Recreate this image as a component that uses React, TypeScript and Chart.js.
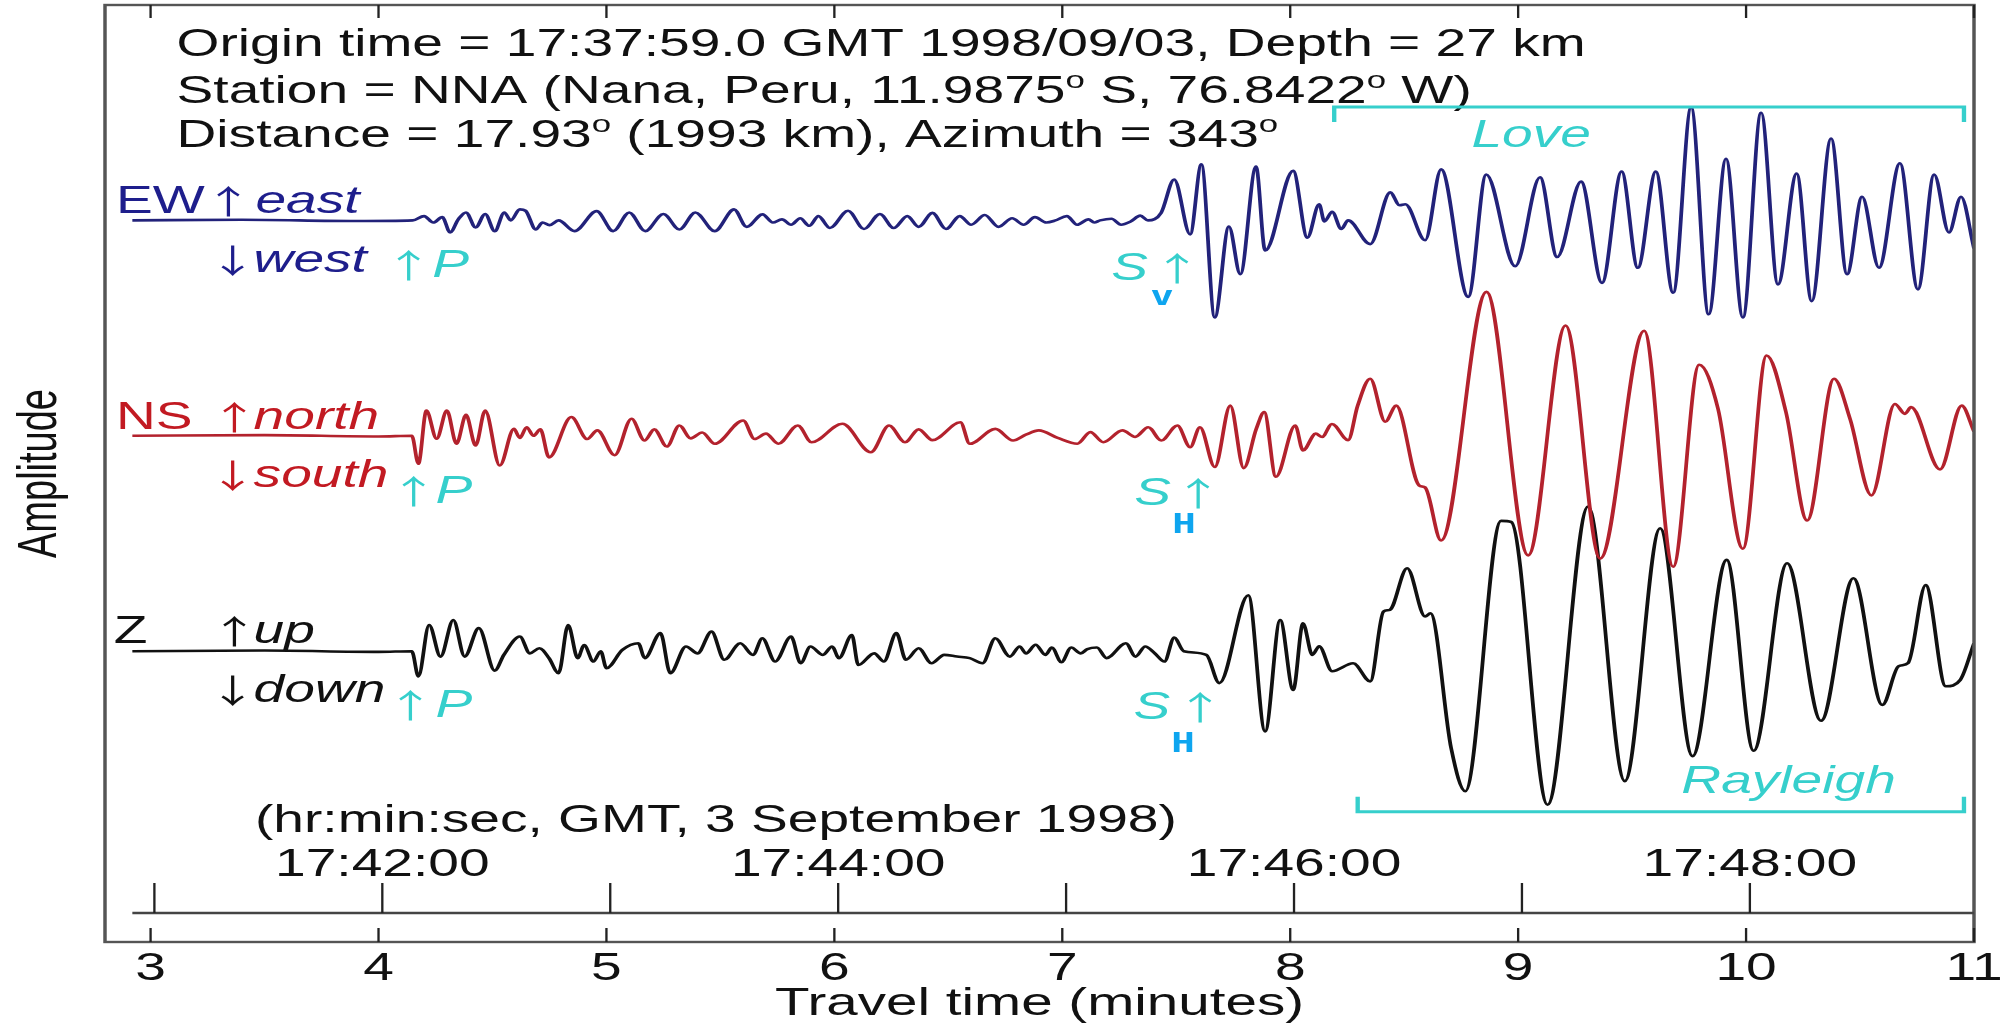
import { useEffect, useRef } from 'react';
import { Chart, registerables } from 'chart.js';

Chart.register(...registerables);

// ---------------- data ----------------
const X_TICKS = [3, 4, 5, 6, 7, 8, 9, 10, 11];
const X_MIN = 2.8;
const X_MAX = 11;
const Y_MIN = -1.35;
const Y_MAX = 3.0;

// GMT clock axis (17:41:00 ... 17:48:00 expressed as travel minutes)
const GMT_TICK_MINUTES = [3.0167, 4.0167, 5.0167, 6.0167, 7.0167, 8.0167, 9.0167, 10.0167];
const GMT_LABEL_MINUTES = [4.0167, 6.0167, 8.0167, 10.0167];
const GMT_LABELS = ['17:42:00', '17:44:00', '17:46:00', '17:48:00'];

const TRACE_OFFSET_EW = 2;
const TRACE_OFFSET_NS = 1;
const TRACE_OFFSET_Z = 0;

// [travel time (min), amplitude (fraction of trace spacing)]
const EW_TRACE: [number, number][] = [
  [2.92, 0], [3.4, 0.003], [3.9, -0.003], [4.15, 0],
  [4.2, 0.02], [4.24, -0.01], [4.28, 0.015], [4.314, -0.056], [4.35, 0.005], [4.384, 0.037],
  [4.426, -0.033], [4.468, 0.03], [4.51, -0.05], [4.552, 0.037], [4.58, 0.0], [4.62, 0.051],
  [4.645, 0.045], [4.69, -0.042], [4.72, -0.01], [4.75, -0.022], [4.79, 0.0], [4.86, -0.05],
  [4.957, 0.043], [5.03, -0.05], [5.1, 0.037], [5.17, -0.05], [5.25, 0.03], [5.32, -0.042],
  [5.39, 0.037], [5.475, -0.05], [5.56, 0.051], [5.615, -0.03], [5.685, 0.028], [5.73, -0.01],
  [5.77, 0.005], [5.81, -0.02], [5.85, 0.01], [5.89, -0.025], [5.93, 0.02], [5.98, -0.035],
  [6.06, 0.045], [6.13, -0.04], [6.2, 0.03], [6.26, -0.035], [6.32, 0.02], [6.37, -0.03],
  [6.43, 0.035], [6.49, -0.04], [6.55, 0.02], [6.6, -0.02], [6.66, 0.025], [6.72, -0.03],
  [6.78, 0.01], [6.83, -0.02], [6.88, 0.015], [6.93, -0.01], [6.97, 0.0], [7.02, 0.02],
  [7.065, -0.02], [7.115, 0.005], [7.14, -0.01], [7.166, 0.0], [7.216, 0.008], [7.258, -0.02],
  [7.3, -0.005], [7.342, 0.022], [7.376, 0.0], [7.434, 0.036], [7.491, 0.19], [7.561, -0.065],
  [7.61, 0.26], [7.669, -0.45], [7.731, -0.028], [7.781, -0.25], [7.85, 0.25], [7.89, -0.14],
  [8.013, 0.23], [8.075, -0.08], [8.127, 0.075], [8.15, -0.005], [8.184, 0.04], [8.224, -0.04],
  [8.254, 0.0], [8.351, -0.11], [8.439, 0.13], [8.48, 0.07], [8.505, 0.075], [8.592, -0.092],
  [8.662, 0.237], [8.781, -0.355], [8.86, 0.213], [8.987, -0.213], [9.096, 0.2], [9.171, -0.17],
  [9.276, 0.18], [9.368, -0.29], [9.454, 0.227], [9.525, -0.22], [9.604, 0.227], [9.68, -0.336],
  [9.759, 0.524], [9.836, -0.436], [9.912, 0.286], [9.986, -0.45], [10.066, 0.5], [10.14, -0.297],
  [10.222, 0.218], [10.288, -0.375], [10.373, 0.38], [10.443, -0.25], [10.509, 0.11], [10.583, -0.22],
  [10.675, 0.265], [10.754, -0.32], [10.825, 0.213], [10.89, -0.056], [10.943, 0.11], [11.0, -0.13],
];

const NS_TRACE: [number, number][] = [
  [2.92, 0], [3.5, 0.003], [4.0, -0.003], [4.146, 0], [4.175, -0.13], [4.21, 0.117],
  [4.255, -0.014], [4.3, 0.117], [4.342, -0.037], [4.384, 0.097], [4.426, -0.045], [4.468, 0.117],
  [4.532, -0.138], [4.594, 0.032], [4.62, -0.01], [4.65, 0.04], [4.68, 0.0], [4.71, 0.03],
  [4.748, -0.1], [4.846, 0.087], [4.916, -0.015], [4.96, 0.025], [5.036, -0.09], [5.11, 0.079],
  [5.167, -0.022], [5.21, 0.03], [5.265, -0.05], [5.32, 0.048], [5.37, -0.012], [5.42, 0.015],
  [5.475, -0.037], [5.6, 0.071], [5.65, -0.015], [5.7, 0.01], [5.754, -0.037], [5.84, 0.048],
  [5.9, -0.03], [6.035, 0.056], [6.16, -0.076], [6.24, 0.048], [6.31, -0.03], [6.37, 0.03],
  [6.43, -0.02], [6.553, 0.063], [6.594, -0.037], [6.706, 0.032], [6.784, -0.022], [6.84, 0.005],
  [6.897, 0.025], [6.98, -0.01], [7.066, -0.037], [7.123, 0.017], [7.18, -0.03], [7.264, 0.025],
  [7.32, -0.005], [7.377, 0.04], [7.434, -0.022], [7.505, 0.048], [7.561, -0.053], [7.604, 0.04],
  [7.669, -0.145], [7.737, 0.14], [7.796, -0.15], [7.851, 0.032], [7.886, 0.11], [7.937, -0.19],
  [8.022, 0.048], [8.056, -0.068], [8.112, 0.01], [8.14, -0.005], [8.183, 0.055], [8.254, -0.02],
  [8.296, 0.14], [8.351, 0.265], [8.417, 0.065], [8.465, 0.14], [8.565, -0.23], [8.592, -0.24],
  [8.662, -0.486], [8.861, 0.668], [9.044, -0.555], [9.208, 0.512], [9.36, -0.57], [9.553, 0.488],
  [9.68, -0.608], [9.794, 0.33], [9.877, 0.125], [9.986, -0.524], [10.09, 0.373], [10.175, 0.11],
  [10.268, -0.393], [10.386, 0.265], [10.456, 0.079], [10.55, -0.277], [10.653, 0.148], [10.697, 0.102],
  [10.724, 0.133], [10.851, -0.156], [10.946, 0.14], [11.0, 0.02],
];

const Z_TRACE: [number, number][] = [
  [2.92, 0], [3.5, 0.003], [4.0, -0.003], [4.146, 0], [4.175, -0.117], [4.222, 0.122],
  [4.272, -0.025], [4.328, 0.145], [4.378, -0.025], [4.44, 0.107], [4.51, -0.09], [4.55, -0.017],
  [4.62, 0.068], [4.664, -0.01], [4.706, 0.014], [4.748, -0.032], [4.79, -0.102], [4.832, 0.122],
  [4.874, -0.032], [4.902, 0.029], [4.943, -0.048], [4.975, 0.0], [5.0, -0.079], [5.07, 0.006],
  [5.14, 0.037], [5.168, -0.032], [5.237, 0.084], [5.28, -0.102], [5.349, 0.022], [5.4, -0.01],
  [5.461, 0.091], [5.517, -0.04], [5.587, 0.037], [5.643, -0.017], [5.684, 0.06], [5.74, -0.048],
  [5.81, 0.068], [5.852, -0.056], [5.895, 0.022], [5.95, -0.017], [5.99, 0.022], [6.02, -0.032],
  [6.077, 0.075], [6.105, -0.064], [6.175, -0.01], [6.217, -0.048], [6.272, 0.084], [6.314, -0.04],
  [6.37, 0.014], [6.426, -0.056], [6.482, -0.017], [6.538, -0.025], [6.594, -0.032], [6.65, -0.056],
  [6.706, 0.06], [6.77, -0.025], [6.813, 0.022], [6.841, -0.01], [6.883, 0.03], [6.926, -0.017],
  [6.954, 0.017], [6.996, -0.051], [7.039, 0.017], [7.081, -0.01], [7.11, 0.01], [7.152, 0.017],
  [7.194, -0.032], [7.279, 0.037], [7.321, -0.025], [7.364, 0.022], [7.406, -0.01], [7.448, -0.048],
  [7.491, 0.063], [7.533, 0.0], [7.632, -0.017], [7.689, -0.148], [7.816, 0.26], [7.89, -0.372],
  [7.956, 0.145], [8.013, -0.18], [8.056, 0.13], [8.097, -0.017], [8.127, 0.023], [8.184, -0.093],
  [8.276, -0.056], [8.351, -0.14], [8.409, 0.184], [8.437, 0.192], [8.513, 0.385], [8.592, 0.161],
  [8.615, 0.176], [8.706, -0.45], [8.768, -0.65], [8.925, 0.605], [8.97, 0.6], [9.129, -0.713],
  [9.307, 0.672], [9.468, -0.603], [9.623, 0.571], [9.765, -0.487], [9.915, 0.424], [10.033, -0.462],
  [10.18, 0.408], [10.329, -0.323], [10.471, 0.339], [10.598, -0.249], [10.669, -0.07], [10.711, -0.055],
  [10.788, 0.307], [10.876, -0.163], [10.94, -0.133], [11.0, 0.037],
];

const LOVE_WINDOW = [8.193, 10.956];
const RAYLEIGH_WINDOW = [8.296, 10.956];
const TRACE_START = 2.92;

// ---------------- styling ----------------
const FONT_FAMILY = '"Liberation Sans", Arial, Helvetica, sans-serif';
const ARROW_FAMILY = '"Noto Sans CJK SC", "Noto Sans CJK JP", "DejaVu Sans", sans-serif';
const MARK_FAMILY = '"DejaVu Sans Mono", monospace';
const NAVY_LINE = '#22227a';
const NAVY_TEXT = '#1e1e8c';
const RED_LINE = '#b3222d';
const RED_TEXT = '#c21a22';
const BLACK = '#111111';
const CYAN = '#36cfcc';
const AZURE = '#0ea5ef';
const FRAME = '#555555';

const CANVAS_W = 2010;
const CANVAS_H = 1031;
const STRETCH = 1.45;
const LOGICAL_W = Math.round(CANVAS_W / STRETCH);
const SX = CANVAS_W / LOGICAL_W;
const FRAME_LEFT = 105;
const FRAME_RIGHT = 1974;
const FRAME_TOP = 5;
const FRAME_BOTTOM = 942;
const FONT_SIZE = 38;

type Run = { text: string; sup?: boolean };
const HEADER_LINES: { runs: Run[]; v: number }[] = [
  { v: 2.763, runs: [{ text: 'Origin time = 17:37:59.0 GMT 1998/09/03, Depth = 27 km' }] },
  {
    v: 2.545,
    runs: [
      { text: 'Station = NNA (Nana, Peru, 11.9875' }, { text: 'o', sup: true },
      { text: ' S, 76.8422' }, { text: 'o', sup: true }, { text: ' W)' },
    ],
  },
  {
    v: 2.341,
    runs: [
      { text: 'Distance = 17.93' }, { text: 'o', sup: true },
      { text: ' (1993 km), Azimuth = 343' }, { text: 'o', sup: true },
    ],
  },
];
const HEADER_M = 3.114;

type Label = { text: string; m: number; v: number; color: string; italic?: boolean; mark?: boolean; arrow?: boolean };
const LABELS: Label[] = [
  { text: 'EW', m: 2.848, v: 2.034, color: NAVY_TEXT },
  { text: '↑', m: 3.342, v: 2.034, color: NAVY_TEXT, arrow: true },
  { text: 'east', m: 3.46, v: 2.034, color: NAVY_TEXT, italic: true },
  { text: '↓', m: 3.36, v: 1.76, color: NAVY_TEXT, arrow: true },
  { text: 'west', m: 3.452, v: 1.76, color: NAVY_TEXT, italic: true },
  { text: '↑', m: 4.132, v: 1.737, color: CYAN, arrow: true },
  { text: 'P', m: 4.236, v: 1.737, color: CYAN, italic: true },

  { text: 'NS', m: 2.848, v: 1.032, color: RED_TEXT },
  { text: '↑', m: 3.368, v: 1.032, color: RED_TEXT, arrow: true },
  { text: 'north', m: 3.452, v: 1.032, color: RED_TEXT, italic: true },
  { text: '↓', m: 3.36, v: 0.762, color: RED_TEXT, arrow: true },
  { text: 'south', m: 3.452, v: 0.762, color: RED_TEXT, italic: true },
  { text: '↑', m: 4.154, v: 0.688, color: CYAN, arrow: true },
  { text: 'P', m: 4.25, v: 0.688, color: CYAN, italic: true },

  { text: 'Z', m: 2.838, v: 0.038, color: BLACK },
  { text: '↑', m: 3.368, v: 0.038, color: BLACK, arrow: true },
  { text: 'up', m: 3.452, v: 0.038, color: BLACK, italic: true },
  { text: '↓', m: 3.36, v: -0.236, color: BLACK, arrow: true },
  { text: 'down', m: 3.452, v: -0.236, color: BLACK, italic: true },
  { text: '↑', m: 4.14, v: -0.306, color: CYAN, arrow: true },
  { text: 'P', m: 4.25, v: -0.306, color: CYAN, italic: true },

  { text: 'S', m: 7.215, v: 1.723, color: CYAN, italic: true },
  { text: '↑', m: 7.504, v: 1.723, color: CYAN, arrow: true },
  { text: 'S', m: 7.316, v: 0.679, color: CYAN, italic: true },
  { text: '↑', m: 7.596, v: 0.679, color: CYAN, arrow: true },
  { text: 'S', m: 7.312, v: -0.315, color: CYAN, italic: true },
  { text: '↑', m: 7.605, v: -0.315, color: CYAN, arrow: true },

  { text: 'v', m: 7.386, v: 1.607, color: AZURE, mark: true },
  { text: 'H', m: 7.482, v: 0.549, color: AZURE, mark: true },
  { text: 'H', m: 7.478, v: -0.468, color: AZURE, mark: true },

  { text: 'Love', m: 8.795, v: 2.341, color: CYAN, italic: true },
  { text: 'Rayleigh', m: 9.716, v: -0.658, color: CYAN, italic: true },
  { text: '(hr:min:sec, GMT, 3 September 1998)', m: 3.458, v: -0.839, color: BLACK },
];
const GMT_AXIS_LEVEL = -1.2153;
const GMT_LABEL_LEVEL = -1.0436;
const BRACKET_LOVE = { level: 2.5265, tip: 2.4568 };
const BRACKET_RAYLEIGH = { level: -0.7452, tip: -0.6755 };

function font(size: number, italic = false, family = FONT_FAMILY, bold = false) {
  return `${italic ? 'italic ' : ''}${bold ? 'bold ' : ''}${size}px ${family}`;
}

const seismoPlugin = {
  id: 'seismo',
  afterInit(chart: any) {
    chart.canvas.width = CANVAS_W;
    chart.canvas.style.width = CANVAS_W + 'px';
  },
  beforeDraw(chart: any) {
    const ctx = chart.ctx as CanvasRenderingContext2D;
    ctx.save();
    ctx.setTransform(SX, 0, 0, 1, 0, 0);
    ctx.fillStyle = '#ffffff';
    ctx.fillRect(0, 0, chart.width, chart.height);
  },
  afterDraw(chart: any) {
    const ctx = chart.ctx as CanvasRenderingContext2D;
    const xs = chart.scales.x;
    const ys = chart.scales.y;
    const X = (m: number) => xs.getPixelForValue(m);
    const Y = (v: number) => ys.getPixelForValue(v);
    const { left, right, top, bottom } = chart.chartArea;

    // frame
    ctx.strokeStyle = FRAME;
    ctx.lineWidth = 2.4;
    ctx.strokeRect(left, top, right - left, bottom - top);

    // ticks of the travel-time axis (inward, top and bottom)
    ctx.strokeStyle = '#222';
    ctx.lineWidth = 1.6;
    ctx.beginPath();
    for (const t of X_TICKS) {
      const px = X(t);
      ctx.moveTo(px, top);
      ctx.lineTo(px, top + 13);
      ctx.moveTo(px, bottom);
      ctx.lineTo(px, bottom - 14);
    }
    ctx.stroke();

    // GMT clock axis
    const gy = Y(GMT_AXIS_LEVEL);
    ctx.strokeStyle = '#444';
    ctx.lineWidth = 2.4;
    ctx.beginPath();
    ctx.moveTo(X(TRACE_START), gy);
    ctx.lineTo(right, gy);
    ctx.stroke();
    ctx.strokeStyle = '#222';
    ctx.lineWidth = 1.6;
    ctx.beginPath();
    for (const t of GMT_TICK_MINUTES) {
      ctx.moveTo(X(t), gy);
      ctx.lineTo(X(t), gy - 30);
    }
    ctx.stroke();
    ctx.fillStyle = BLACK;
    ctx.font = font(FONT_SIZE);
    ctx.textAlign = 'center';
    ctx.textBaseline = 'alphabetic';
    GMT_LABELS.forEach((lab, i) => ctx.fillText(lab, X(GMT_LABEL_MINUTES[i]), Y(GMT_LABEL_LEVEL)));

    // header lines
    ctx.textAlign = 'left';
    for (const line of HEADER_LINES) {
      let cx = X(HEADER_M);
      const by = Y(line.v);
      for (const r of line.runs) {
        ctx.font = r.sup ? font(24) : font(FONT_SIZE);
        ctx.fillText(r.text, cx, r.sup ? by - 15 : by);
        cx += ctx.measureText(r.text).width;
      }
    }

    // labels
    for (const l of LABELS) {
      ctx.fillStyle = l.color;
      if (l.arrow) {
        ctx.font = font(33, false, ARROW_FAMILY);
        ctx.textAlign = 'center';
        ctx.fillText(l.text, X(l.m), Y(l.v) + 1);
        ctx.textAlign = 'left';
      } else {
        ctx.font = l.mark ? font(27, false, MARK_FAMILY, true) : font(FONT_SIZE, !!l.italic);
        ctx.fillText(l.text, X(l.m), Y(l.v));
      }
    }

    // Love / Rayleigh brackets
    ctx.strokeStyle = CYAN;
    ctx.lineWidth = 3;
    const bracket = (w: number[], b: { level: number; tip: number }) => {
      ctx.beginPath();
      ctx.moveTo(X(w[0]), Y(b.tip));
      ctx.lineTo(X(w[0]), Y(b.level));
      ctx.lineTo(X(w[1]), Y(b.level));
      ctx.lineTo(X(w[1]), Y(b.tip));
      ctx.stroke();
    };
    bracket(LOVE_WINDOW, BRACKET_LOVE);
    bracket(RAYLEIGH_WINDOW, BRACKET_RAYLEIGH);

    ctx.restore();
  },
};

function series(trace: [number, number][], offset: number) {
  return trace.map(([t, a]) => ({ x: t, y: a + offset }));
}

export default function App() {
  const ref = useRef<HTMLCanvasElement | null>(null);
  useEffect(() => {
    const canvas = ref.current;
    if (!canvas) return;
    const common = {
      pointRadius: 0,
      borderWidth: 2.6,
      cubicInterpolationMode: 'monotone' as const,
      fill: false,
    };
    const chart = new Chart(canvas, {
      type: 'line',
      data: {
        datasets: [
          { label: 'EW', data: series(EW_TRACE, TRACE_OFFSET_EW), borderColor: NAVY_LINE, ...common },
          { label: 'NS', data: series(NS_TRACE, TRACE_OFFSET_NS), borderColor: RED_LINE, ...common },
          { label: 'Z', data: series(Z_TRACE, TRACE_OFFSET_Z), borderColor: BLACK, ...common },
        ],
      },
      options: {
        responsive: false,
        animation: false,
        devicePixelRatio: 1,
        events: [],
        layout: {
          padding: { left: 0, top: FRAME_TOP, right: LOGICAL_W - FRAME_RIGHT / SX, bottom: 0 },
        },
        plugins: {
          legend: { display: false },
          tooltip: { enabled: false },
          title: { display: false },
        },
        scales: {
          x: {
            type: 'linear',
            min: X_MIN,
            max: X_MAX,
            afterBuildTicks: (s: any) => {
              s.ticks = X_TICKS.map((v) => ({ value: v }));
            },
            afterFit: (s: any) => {
              s.height = CANVAS_H - FRAME_BOTTOM;
            },
            grid: { display: false, drawTicks: false },
            border: { display: false },
            ticks: {
              color: BLACK,
              padding: 5,
              maxRotation: 0,
              autoSkip: false,
              font: { family: FONT_FAMILY, size: FONT_SIZE },
              callback: (v: any) => String(v),
            },
            title: {
              display: true,
              text: 'Travel time (minutes)',
              color: BLACK,
              font: { family: FONT_FAMILY, size: 39 },
              padding: { top: 0, bottom: 3 },
            },
          },
          y: {
            type: 'linear',
            min: Y_MIN,
            max: Y_MAX,
            afterFit: (s: any) => {
              s.width = FRAME_LEFT / SX;
            },
            grid: { display: false, drawTicks: false },
            border: { display: false },
            ticks: { display: false },
            title: {
              display: true,
              text: 'Amplitude',
              color: BLACK,
              font: { family: FONT_FAMILY, size: FONT_SIZE },
              padding: { top: 5.5, bottom: 0 },
            },
          },
        },
      },
      plugins: [seismoPlugin],
    } as any);
    return () => chart.destroy();
  }, []);

  return (
    <div style={{ position: 'absolute', left: 0, top: 0, width: CANVAS_W, height: CANVAS_H, background: '#ffffff' }}>
      <canvas ref={ref} width={LOGICAL_W} height={CANVAS_H} />
    </div>
  );
}
